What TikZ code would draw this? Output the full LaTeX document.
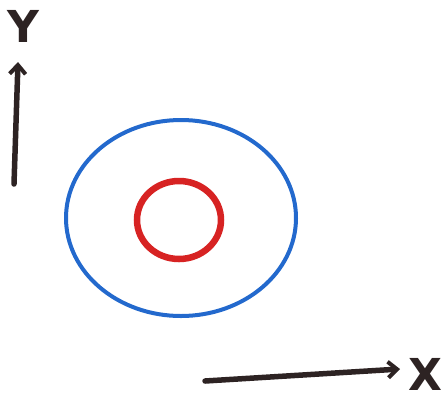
\documentclass[tikz,border=0pt]{standalone}
\usepackage{fontspec}
\setsansfont{DejaVu Sans}
\usepackage{tikz}
\usetikzlibrary{arrows.meta,
positioning,
calc}

\definecolor{crayonblue}{RGB}{35,105,205}
\definecolor{crayonred}{RGB}{215,35,35}
\definecolor{crayonblack}{RGB}{45,35,35}

\begin{document}
\begin{tikzpicture}[
x=1pt, y=-1pt,
>={Straight Barb[length=9pt, width=16pt, line width=4pt]},
axis/.style={
draw=crayonblack,
line width=5.5pt,
line cap=round,
->
},
label/.style={
text=crayonblack,
font=\sffamily\bfseries\fontsize{44}{44}\selectfont,
inner sep=0pt
},
orbit/.style={
line width=4pt
}
]

% Frame
\useasboundingbox (0,0) rectangle (446,400);

% Axes
\coordinate (yfoot) at (14,184);
\coordinate (ytip) at (18,62);
\coordinate (xfoot) at (205,381);
\coordinate (xtip) at (400,369);

\node[label] (ylab) at (23,26) {Y};
\node[label] (xlab) at (425,374) {X};

\draw[axis] (yfoot) -- (ytip);
\draw[axis] (xfoot) -- (xtip);

% Circles
\coordinate (centre) at (181,218);
\draw[orbit, crayonblue] (centre) ellipse [x radius=115, y radius=98];
\draw[orbit, crayonred, line width=6.5pt] ($(centre)+(-2,2)$) ellipse [x radius=42, y radius=39];

\end{tikzpicture}
\end{document}
